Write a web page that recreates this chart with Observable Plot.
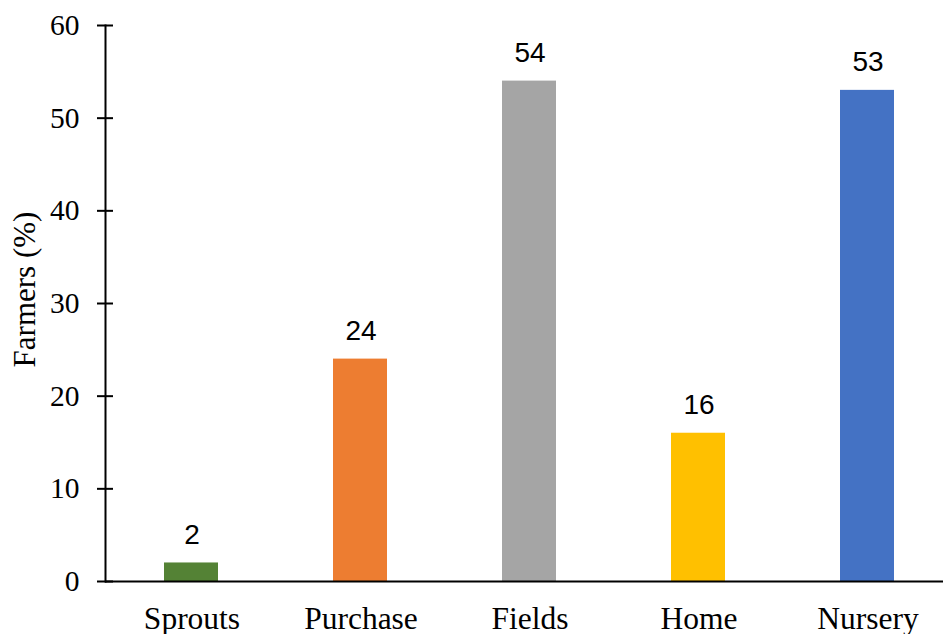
<!DOCTYPE html>
<html>
<head>
<meta charset="utf-8">
<script src="https://cdn.jsdelivr.net/npm/d3@7"></script>
<script src="https://cdn.jsdelivr.net/npm/@observablehq/plot@0.6"></script>
<style>
  html, body { margin: 0; padding: 0; background: #fff; overflow: hidden; }
  #chart { width: 943px; height: 634px; overflow: hidden; }
</style>
</head>
<body>
<div id="chart"></div>
<script>
const categories = ["Sprouts", "Purchase", "Fields", "Home", "Nursery"];
const values = [2, 24, 54, 16, 53];
const colors = ["#548235", "#ED7D31", "#A5A5A5", "#FFC000", "#4472C4"];
const yTicks = [0, 10, 20, 30, 40, 50, 60];
const yLabel = "Farmers (%)";

const data = categories.map((c, i) => ({category: c, value: values[i], color: colors[i]}));

const serif = "'Liberation Serif', 'Times New Roman', serif";
const sans = "'Liberation Sans', Arial, sans-serif";

const chart = Plot.plot({
  width: 943,
  height: 634,
  marginTop: 25,
  marginBottom: 53,
  marginLeft: 105,
  marginRight: 0,
  style: {background: "#fff", color: "#000"},
  x: {domain: categories, range: [105, 954], padding: 0},
  y: {domain: [0, 60]},
  marks: [
    Plot.barY(data, {x: "category", y: "value", fill: "color", insetLeft: 57, insetRight: 58}),
    Plot.text(data, {x: "category", y: "value", text: d => String(d.value), dy: -28, lineAnchor: "middle",
      fontSize: 28, fontFamily: sans, fill: "#000"}),
    Plot.axisY({ticks: yTicks, tickSize: 16, dx: 8, tickPadding: 18, fontSize: 29.5, fontFamily: serif,
      label: null, strokeWidth: 2, stroke: "#000", fill: "#000"}),
    Plot.axisX({tickSize: 0, tickPadding: 25, fontSize: 31.5, fontFamily: serif, label: null, fill: "#000"}),
    Plot.frame({anchor: "left", stroke: "#000", strokeWidth: 2}),
    Plot.ruleY([0], {stroke: "#000", strokeWidth: 2}),
    Plot.text([yLabel], {frameAnchor: "left", rotate: -90, dx: -80, dy: -14, fontSize: 31,
      fontFamily: serif, fill: "#000", textAnchor: "middle", lineAnchor: "middle"})
  ]
});
document.getElementById("chart").appendChild(chart);
</script>
</body>
</html>
